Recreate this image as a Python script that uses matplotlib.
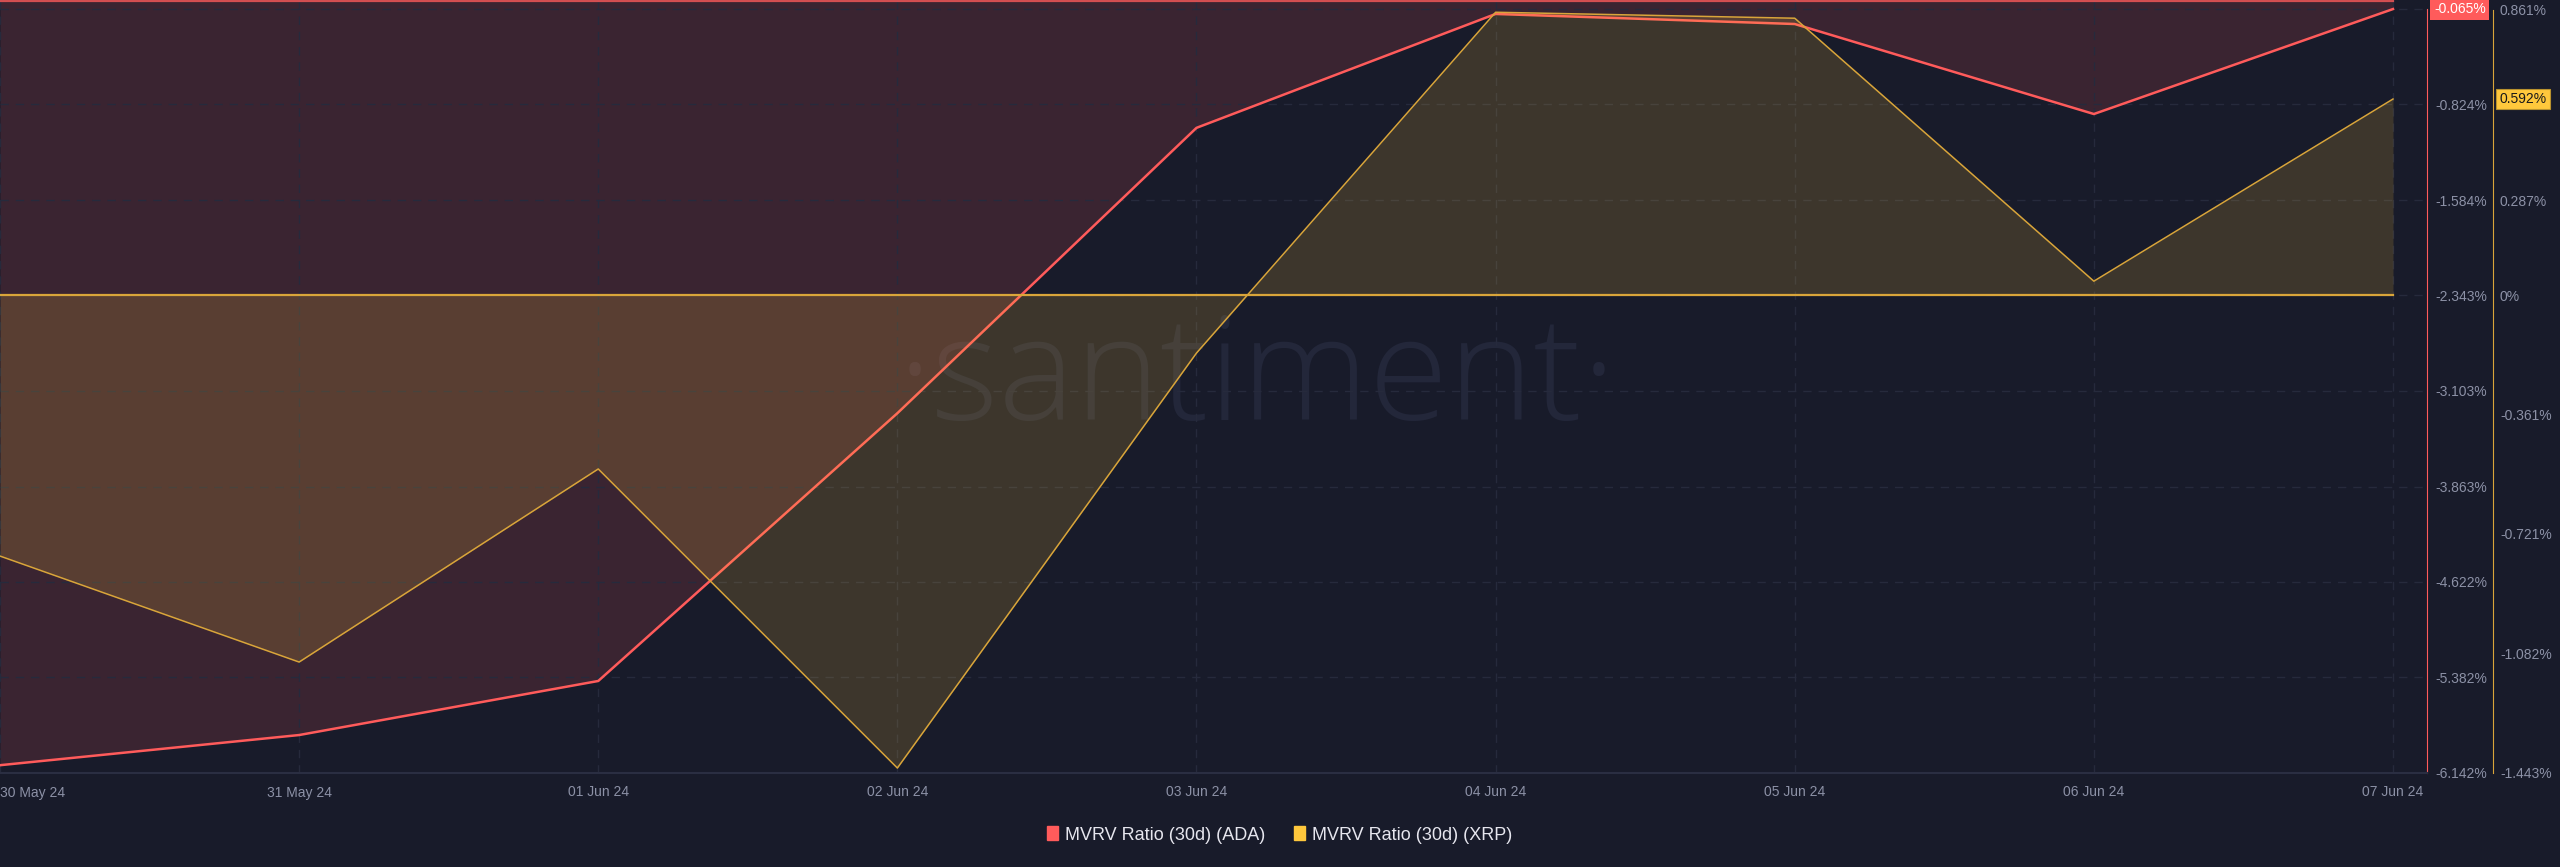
import numpy as np
import matplotlib.pyplot as plt
from matplotlib.patches import Patch

# Daten
dates = ["30 May 24", "31 May 24", "01 Jun 24", "02 Jun 24", "03 Jun 24",
         "04 Jun 24", "05 Jun 24", "06 Jun 24", "07 Jun 24"]
ada = [-6.08, -5.84, -5.41, -3.28, -1.01, -0.104, -0.184, -0.90, -0.065]
xrp = [-0.788, -1.108, -0.525, -1.428, -0.175, 0.854, 0.836, 0.042, 0.592]

ada_ticks = [-6.142, -5.382, -4.622, -3.863, -3.103, -2.343, -1.584, -0.824, -0.065]
xrp_ticks = [-1.443, -1.082, -0.721, -0.361, 0, 0.287, 0.574, 0.861]
xrp_tick_labels = ["-1.443%", "-1.082%", "-0.721%", "-0.361%", "0%", "0.287%", "0.574%", "0.861%"]

# Kleuren
bg = "#181b2a"
red = "#ff5b5b"
yellow = "#d9a53a"
yellow_fill = "#ffc83c"
grid_col = "#262a3c"
tick_col = "#8c91a6"

plt.rcParams['font.family'] = ['Liberation Sans', 'DejaVu Sans']

fig = plt.figure(figsize=(25.6, 8.67), dpi=100, facecolor=bg)
ax = fig.add_axes([0, 1 - 773 / 867, 2427 / 2560, 773 / 867])
ax.set_facecolor(bg)
ax2 = ax.twinx()

x = np.arange(len(dates))

# watermerk
ax.text(0.518, 0.505, "·santiment·", transform=ax.transAxes, ha='center', va='center',
        fontsize=104, color="#23273a", family=['Open Sans', 'DejaVu Sans'],
        fontweight='light', zorder=0.5)

# ADA (rood)
ax.fill_between(x, ada, 0, color=red, alpha=0.15, lw=0, zorder=1)
ax.plot(x, ada, color=red, lw=1.8, zorder=3)
ax.plot(x, np.zeros(len(x)), color=red, lw=1.6, alpha=0.8, zorder=3)
ax.set_ylim(-6.142, 0.007)
ax.set_xlim(0, 8 + 34 / 299)

# XRP (geel)
ax2.fill_between(x, xrp, 0, color=yellow_fill, alpha=0.16, lw=0, zorder=1)
ax2.plot(x, xrp, color=yellow, lw=1.1, zorder=3)
ax2.plot(x, np.zeros(len(x)), color=yellow, lw=1.6, zorder=2)
ax2.set_ylim(-1.443, 0.891)

# Assen
ax.set_xticks(x, labels=dates)
ax.set_yticks(ada_ticks, labels=["%.3f%%" % t for t in ada_ticks])
ax.yaxis.tick_right()
ax2.set_yticks(xrp_ticks, labels=xrp_tick_labels)

ax.grid(True, color=grid_col, ls=(0, (6, 5)), lw=1)
ax.tick_params(axis='both', length=0, colors=tick_col, labelsize=10)
ax.tick_params(axis='x', pad=9)
ax.tick_params(axis='y', pad=6)
ax2.tick_params(axis='y', length=0, colors=tick_col, labelsize=10, pad=5)
ax.get_xticklabels()[0].set_ha('left')

for a in (ax, ax2):
    for s in ('top', 'left'):
        a.spines[s].set_visible(False)
ax.spines['bottom'].set_color("#2a2e42")
ax.spines['bottom'].set_linewidth(1.5)
ax.spines['right'].set_color(red)
ax.spines['right'].set_bounds(-6.142, -0.065)
ax2.spines['bottom'].set_visible(False)
ax2.spines['right'].set_position(('outward', 47.5))
ax2.spines['right'].set_color(yellow)
ax2.spines['right'].set_bounds(-1.443, 0.861)

# laatste waarden als labels
ax.annotate("%.3f%%" % ada[-1], xy=(1, ada[-1]), xycoords=('axes fraction', 'data'),
            xytext=(5, 0), textcoords='offset points', ha='left', va='center',
            fontsize=10, color='white',
            bbox=dict(boxstyle='square,pad=0.25', fc=red, ec='none'), zorder=10)
ax2.annotate("%.3f%%" % xrp[-1], xy=(1, xrp[-1]), xycoords=('axes fraction', 'data'),
             xytext=(52, 0), textcoords='offset points', ha='left', va='center',
             fontsize=10, color='#1a1a1a',
             bbox=dict(boxstyle='square,pad=0.25', fc="#ffc83c", ec='#b8922e', lw=0.8),
             zorder=10, annotation_clip=False)

# Legenda
handles = [Patch(color=red), Patch(color="#ffc83c")]
fig.legend(handles, ["MVRV Ratio (30d) (ADA)", "MVRV Ratio (30d) (XRP)"],
           loc='center', bbox_to_anchor=(0.5, 0.037), ncol=2, frameon=False,
           fontsize=13, labelcolor='#e6e6ee', handlelength=0.6, handleheight=0.8,
           handletextpad=0.4, columnspacing=1.6)

fig.savefig("out.png", dpi=100, facecolor=bg)
